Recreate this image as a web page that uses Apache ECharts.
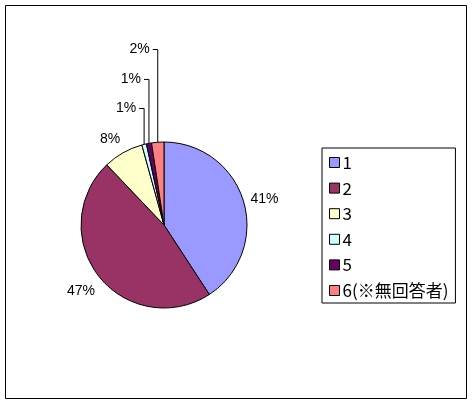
<!DOCTYPE html>
<html>
<head>
<meta charset="utf-8">
<script src="https://cdn.jsdelivr.net/npm/echarts@6/dist/echarts.min.js"></script>
<style>
  html, body { margin: 0; padding: 0; background: #fff; }
  #chart { width: 473px; height: 405px; }
</style>
</head>
<body>
<div id="chart"></div>
<script>
// 回答区分
var categories = ['1', '2', '3', '4', '5', '6(※無回答者)'];
// 割合 (%)
var values = [40.8, 47.1, 7.8, 0.9, 1.0, 2.4];
var colors = ['#9999FF', '#993366', '#FFFFCC', '#CCFFFF', '#660066', '#FF8080'];
// 引き出し線の長さ (小さい項目だけ線を出す)
var lineLength = [3, 10, 12, 37, 65, 93];
var showLine = [false, false, false, true, true, true];
// ラベルの微調整
var labelShift = [[0, -1], [8, 8], [7, -3], [0, 0], [0, 0], [0, 0]];

var pieData = [];
for (var i = 0; i < categories.length; i++) {
    pieData.push({
        name: categories[i],
        value: values[i],
        itemStyle: { color: colors[i] },
        labelLine: { show: showLine[i], length: lineLength[i], length2: showLine[i] ? 5 : 1 }
    });
}

var myChart = echarts.init(document.getElementById('chart'));

var option = {
    animation: false,
    backgroundColor: '#fff',
    graphic: [{
        type: 'rect',
        shape: { x: 5.5, y: 5.5, width: 461, height: 393 },
        style: { fill: 'none', stroke: '#000', lineWidth: 1 },
        silent: true
    }],
    legend: {
        orient: 'vertical',
        left: 322,
        top: 148,
        padding: [6, 7, 4, 7],
        itemWidth: 10,
        itemHeight: 10,
        itemGap: 8.6,
        icon: 'rect',
        borderColor: '#000',
        borderWidth: 1,
        itemStyle: { borderColor: '#000', borderWidth: 1 },
        textStyle: {
            fontFamily: 'Noto Sans CJK JP',
            fontSize: 17,
            lineHeight: 17,
            color: '#000',
            padding: [0, 0, 0, -2]
        },
        data: categories
    },
    series: [{
        type: 'pie',
        center: [164, 225],
        radius: 83,
        startAngle: 90,
        clockwise: true,
        avoidLabelOverlap: false,
        itemStyle: { borderColor: '#000', borderWidth: 1 },
        label: {
            show: true,
            position: 'outside',
            color: '#000',
            fontFamily: 'Liberation Sans',
            fontSize: 14,
            distanceToLabelLine: 3,
            formatter: function (p) {
                return Math.round(p.percent) + '%';
            }
        },
        labelLine: {
            lineStyle: { color: '#000', width: 1 }
        },
        // 引き出し線を垂直→水平にそろえる
        labelLayout: function (params) {
            var idx = params.dataIndex;
            if (!showLine[idx] || !params.labelLinePoints) {
                return { dx: labelShift[idx][0], dy: labelShift[idx][1] };
            }
            var pts = params.labelLinePoints;
            var p0 = pts[0];
            var y = pts[1][1];
            var xEnd = p0[0] - 5;
            return {
                x: xEnd - 3,
                y: y,
                align: 'right',
                verticalAlign: 'middle',
                labelLinePoints: [p0, [p0[0], y], [xEnd, y]]
            };
        },
        data: pieData
    }]
};

myChart.setOption(option);
</script>
</body>
</html>
